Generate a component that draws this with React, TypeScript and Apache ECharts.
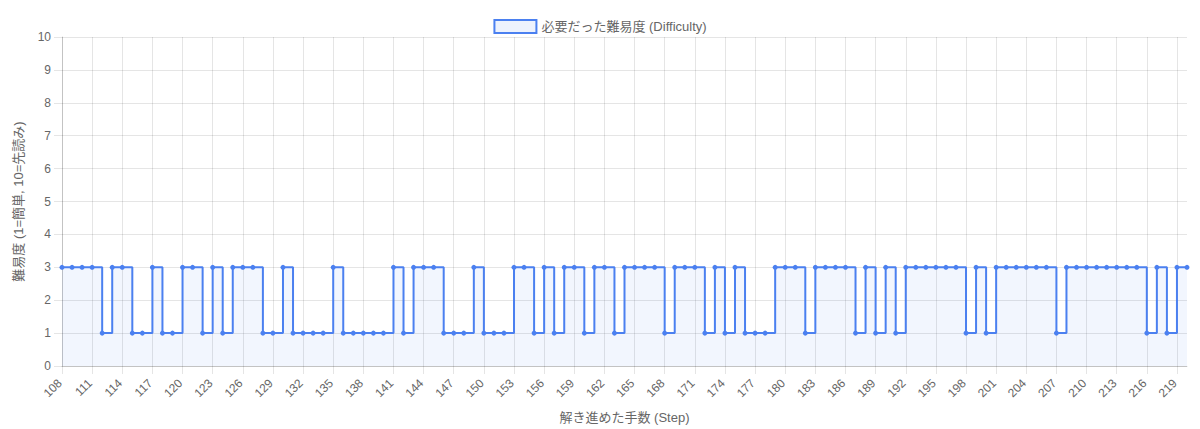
import React, { useEffect, useRef } from "react";
import * as echarts from "echarts";

const startStep = 108;
const difficulty: number[] = [
  3, 3, 3, 3, // 108-111
  1, // 112
  3, 3, // 113-114
  1, 1, // 115-116
  3, // 117
  1, 1, // 118-119
  3, 3, // 120-121
  1, // 122
  3, // 123
  1, // 124
  3, 3, 3, // 125-127
  1, 1, // 128-129
  3, // 130
  1, 1, 1, 1, // 131-134
  3, // 135
  1, 1, 1, 1, 1, // 136-140
  3, // 141
  1, // 142
  3, 3, 3, // 143-145
  1, 1, 1, // 146-148
  3, // 149
  1, 1, 1, // 150-152
  3, 3, // 153-154
  1, // 155
  3, // 156
  1, // 157
  3, 3, // 158-159
  1, // 160
  3, 3, // 161-162
  1, // 163
  3, 3, 3, 3, // 164-167
  1, // 168
  3, 3, 3, // 169-171
  1, // 172
  3, // 173
  1, // 174
  3, // 175
  1, 1, 1, // 176-178
  3, 3, 3, // 179-181
  1, // 182
  3, 3, 3, 3, // 183-186
  1, // 187
  3, // 188
  1, // 189
  3, // 190
  1, // 191
  3, 3, 3, 3, 3, 3, // 192-197
  1, // 198
  3, // 199
  1, // 200
  3, 3, 3, 3, 3, 3, // 201-206
  1, // 207
  3, 3, 3, 3, 3, 3, 3, 3, // 208-215
  1, // 216
  3, // 217
  1, // 218
  3, 3, // 219-220
];
const steps: string[] = difficulty.map((_, i) => String(startStep + i));

const seriesName = "必要だった難易度 (Difficulty)";
const xTitle = "解き進めた手数 (Step)";
const yTitle = "難易度 (1=簡単, 10=先読み)";

const LINE = "#4b80f0";
const FILL = "rgba(75,128,240,0.1)";
const GRID = "rgba(0,0,0,0.1)";
const TEXT = "#666";
const FONT = "'Helvetica Neue', Helvetica, Arial, 'Liberation Sans', 'Noto Sans CJK JP', sans-serif";

export default function App() {
  const ref = useRef<HTMLDivElement>(null);
  useEffect(() => {
    if (!ref.current) return;
    const chart = echarts.init(ref.current, undefined, { renderer: "svg" });
    chart.setOption({
      animation: false,
      textStyle: { fontFamily: FONT },
      legend: {
        top: 14,
        left: "center",
        itemWidth: 42,
        itemHeight: 13,
        itemGap: 10,
        textStyle: { color: TEXT, fontSize: 13, fontFamily: FONT },
        data: [
          {
            name: seriesName,
            icon: "rect",
            itemStyle: { color: FILL, borderColor: LINE, borderWidth: 2 },
          },
        ],
      },
      grid: { left: 62, right: 13, top: 37, bottom: 62, containLabel: false },
      xAxis: {
        type: "category",
        data: steps,
        boundaryGap: false,
        name: xTitle,
        nameLocation: "middle",
        nameGap: 45,
        nameTextStyle: { color: TEXT, fontSize: 13, fontFamily: FONT },
        axisLine: { show: true, lineStyle: { color: "rgba(0,0,0,0.15)", width: 1 } },
        axisTick: { show: true, interval: 2, length: 8, lineStyle: { color: GRID } },
        axisLabel: {
          interval: 2,
          rotate: 45,
          margin: 13,
          padding: [0, 3, 0, 0],
          color: TEXT,
          fontSize: 12,
          fontFamily: FONT,
        },
        splitLine: { show: true, interval: 2, lineStyle: { color: GRID, width: 1 } },
      },
      yAxis: {
        type: "value",
        min: 0,
        max: 10,
        interval: 1,
        name: yTitle,
        nameLocation: "middle",
        nameGap: 37,
        nameRotate: 90,
        nameTextStyle: { color: TEXT, fontSize: 13, fontFamily: FONT },
        axisLine: { show: true, lineStyle: { color: "rgba(0,0,0,0.15)", width: 1 } },
        axisTick: { show: true, length: 8, lineStyle: { color: GRID } },
        axisLabel: { margin: 11, color: TEXT, fontSize: 12, fontFamily: FONT },
        splitLine: { show: true, lineStyle: { color: GRID, width: 1 } },
      },
      series: [
        {
          name: seriesName,
          type: "line",
          data: difficulty,
          step: "end",
          symbol: "circle",
          symbolSize: 5,
          showSymbol: true,
          lineStyle: { color: LINE, width: 2 },
          itemStyle: { color: LINE },
          areaStyle: { color: FILL, origin: "start" },
          emphasis: { disabled: true },
        },
      ],
    });
    return () => chart.dispose();
  }, []);
  return (
    <div
      ref={ref}
      style={{ position: "fixed", left: 0, top: 0, width: 1200, height: 429, background: "#fff" }}
    />
  );
}
